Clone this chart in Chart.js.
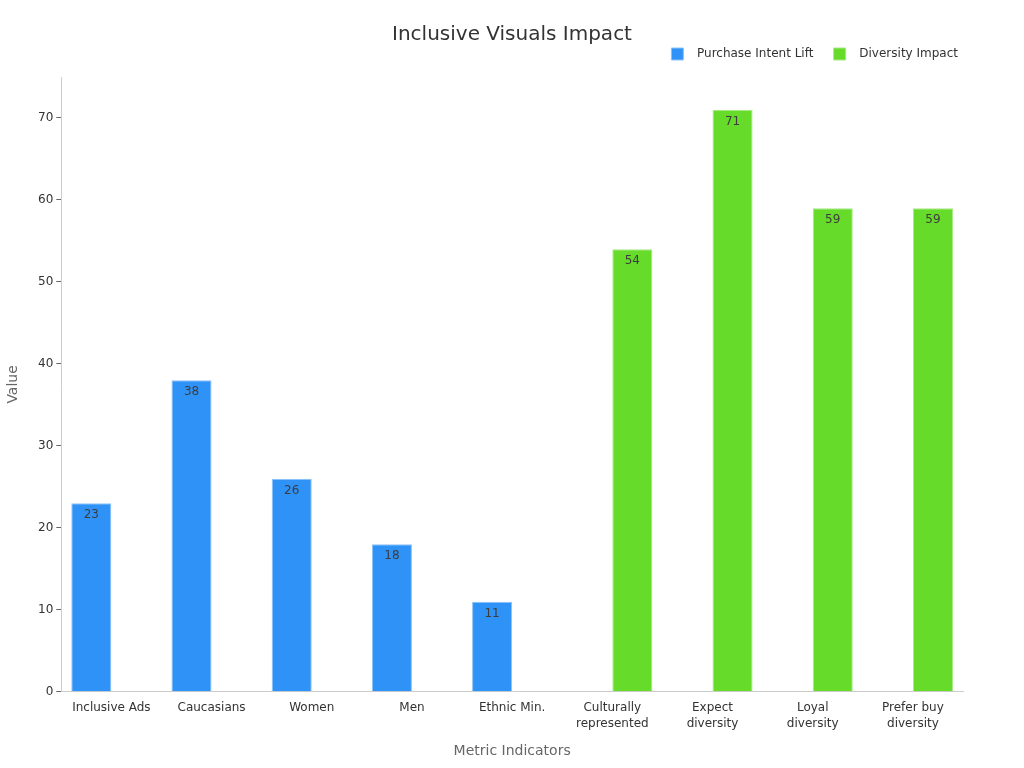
<!DOCTYPE html>
<html><head><meta charset="utf-8">
<script src="https://cdn.jsdelivr.net/npm/chart.js@4.4.0/dist/chart.umd.min.js"></script>
<style>html,body{margin:0;padding:0;background:#fff}#wrap{width:1024px;height:768px}</style>
</head><body><div id="wrap"><canvas id="c" width="1024" height="768"></canvas></div>
<script>
const categories = ["Inclusive Ads","Caucasians","Women","Men","Ethnic Min.",["Culturally","represented"],["Expect","diversity"],["Loyal","diversity"],["Prefer buy","diversity"]];
const purchaseIntentLift = [23,38,26,18,11,null,null,null,null];
const diversityImpact = [null,null,null,null,null,54,71,59,59];
const yTicks = [0,10,20,30,40,50,60,70];
const seriesNames = ['Purchase Intent Lift','Diversity Impact'];

const labelPlugin = {
  id:'barLabels',
  afterDatasetsDraw(chart){
    const ctx = chart.ctx;
    ctx.save();
    ctx.font = '12px "DejaVu Sans"';
    ctx.fillStyle = '#3d3d3d';
    ctx.textAlign = 'center';
    ctx.textBaseline = 'middle';
    chart.data.datasets.forEach((ds,i)=>{
      const meta = chart.getDatasetMeta(i);
      meta.data.forEach((el,j)=>{
        const v = ds.data[j];
        if(v===null||v===undefined) return;
        ctx.fillText(String(v), el.x, el.y + 12);
      });
    });
    ctx.restore();
  }
};

new Chart(document.getElementById('c'),{
  type:'bar',
  data:{labels:categories,datasets:[
    {label:seriesNames[0],data:purchaseIntentLift,backgroundColor:'#2f92f7',borderColor:'#8cc3f8',borderWidth:1,xAxisID:'x',yAxisID:'y'},
    {label:seriesNames[1],data:diversityImpact,backgroundColor:'#66db29',borderColor:'#a6ea85',borderWidth:1,xAxisID:'x',yAxisID:'y'}
  ]},
  options:{
    responsive:false,animation:false,
    devicePixelRatio:1,
    layout:{padding:{left:6,right:6,top:0,bottom:4}},
    datasets:{bar:{barPercentage:1,categoryPercentage:0.8}},
    plugins:{
      title:{display:true,text:'Inclusive Visuals Impact',color:'#333',font:{family:'DejaVu Sans',size:20,weight:'normal',lineHeight:1},padding:{top:25,bottom:-2}},
      legend:{align:'end',fullSize:false,labels:{boxWidth:12,boxHeight:12,color:'#333',font:{family:'DejaVu Sans',size:12},padding:5,
        generateLabels(chart){
          const items = Chart.defaults.plugins.legend.labels.generateLabels(chart);
          items.forEach((it,i)=>{ it.text = '  ' + it.text + (i < items.length-1 ? '    ' : ''); });
          return items;
        }}},
      tooltip:{enabled:false}
    },
    scales:{
      x:{
        grid:{display:false,drawTicks:true,tickLength:5,color:'#ccc'},
        border:{color:'#ccc'},
        ticks:{color:'#333',font:{family:'DejaVu Sans',size:12,lineHeight:1.35},maxRotation:0,autoSkip:false,padding:3},
        title:{display:true,text:'Metric Indicators',color:'#666',font:{family:'DejaVu Sans',size:14},padding:{top:8,bottom:4}}
      },
      xTop:{
        type:'category',position:'top',display:true,
        grid:{display:false},border:{display:false},ticks:{display:false},
        afterFit(axis){axis.height = 7;}
      },
      y:{
        min:0,max:75,
        afterBuildTicks(axis){axis.ticks = yTicks.map(v=>({value:v}));},
        grid:{display:true,drawOnChartArea:false,drawTicks:true,tickLength:5,color:'#666'},
        border:{color:'#ccc'},
        ticks:{color:'#333',font:{family:'DejaVu Sans',size:12},padding:3},
        title:{display:true,text:'Value',color:'#666',font:{family:'DejaVu Sans',size:14,lineHeight:1},padding:{top:0,bottom:15}}
      },
      yRight:{
        position:'right',display:true,min:0,max:75,
        grid:{display:false},border:{display:false},ticks:{display:false},
        afterFit(axis){axis.width = 55;}
      }
    }
  },
  plugins:[labelPlugin]
});
</script></body></html>
